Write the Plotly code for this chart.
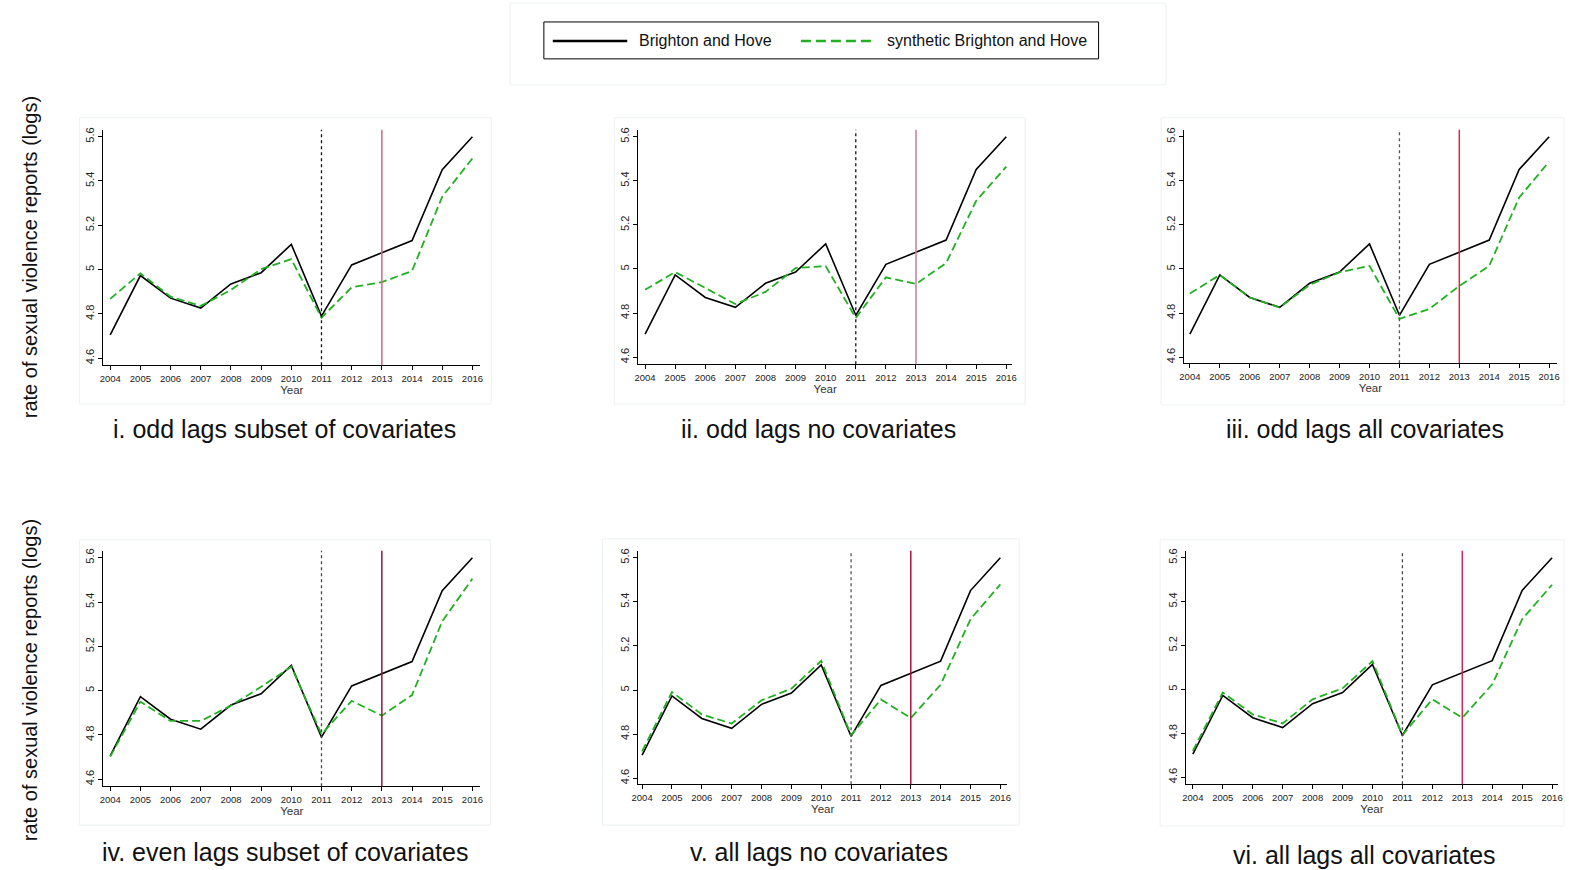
import plotly.graph_objects as go

W, H = 1569, 870
FONT = "Liberation Sans, Arial, Helvetica, sans-serif"

years = list(range(2004, 2017))
brighton = [4.705, 4.973, 4.871, 4.826, 4.935, 4.986, 5.114, 4.790, 5.021, 5.077, 5.131, 5.451, 5.600]

synth_i = [4.868, 4.983, 4.878, 4.836, 4.908, 5.002, 5.047, 4.783, 4.920, 4.943, 4.994, 5.329, 5.502]
synth_ii = [4.906, 4.986, 4.914, 4.841, 4.896, 5.004, 5.013, 4.778, 4.962, 4.932, 5.027, 5.309, 5.464]
synth_iii = [4.889, 4.973, 4.871, 4.825, 4.928, 4.985, 5.014, 4.774, 4.819, 4.923, 5.014, 5.324, 5.487]
synth_iv = [4.702, 4.950, 4.863, 4.863, 4.932, 5.017, 5.108, 4.803, 4.954, 4.887, 4.980, 5.313, 5.505]
synth_v = [4.722, 4.991, 4.889, 4.848, 4.953, 5.006, 5.132, 4.795, 4.957, 4.873, 5.024, 5.321, 5.479]
synth_vi = [4.720, 4.986, 4.886, 4.845, 4.955, 5.005, 5.129, 4.792, 4.955, 4.871, 5.023, 5.320, 5.477]

titles = ["i. odd lags subset of covariates", "ii. odd lags no covariates",
          "iii. odd lags all covariates", "iv. even lags subset of covariates",
          "v. all lags no covariates", "vi. all lags all covariates"]
synths = [synth_i, synth_ii, synth_iii, synth_iv, synth_v, synth_vi]

y_ticks = [4.6, 4.8, 5.0, 5.2, 5.4, 5.6]
y_ticklabels = ["4.6", "4.8", "5", "5.2", "5.4", "5.6"]
x_ticklabels = [str(y) for y in years]
treat_year = 2011
policy_year = 2013
legend_labels = ["Brighton and Hove", "synthetic Brighton and Hove"]
y_axis_label = "rate of sexual violence reports (logs)"

# layout geometry in pixels: (axis left, axis right, axis top, axis bottom, px 2004, px 2016, py 5.6, py 4.6)
geo = [
    (97, 477, 128, 364, 104, 469, 135, 357),
    (636, 1013, 128, 363, 643, 1007, 135, 356),
    (1186, 1562, 128, 362, 1192, 1554, 135, 356),
    (97, 477, 550, 786, 104, 469, 557, 779),
    (636, 1008, 550, 784, 640, 1001, 557, 778),
    (1188, 1563, 550, 784, 1195, 1557, 557, 777),
]
title_pos = [(280, 428), (818, 428), (1368, 428), (280, 852), (818, 852), (1368, 855)]
panel_boxes = [(73, 116, 488, 403), (612, 116, 1026, 403), (1163, 116, 1569, 404),
               (73, 539, 487, 825), (600, 538, 1020, 825), (1162, 539, 1569, 826)]
red_colors = ["#e0607f", "#d27a93", "#d8254f", "#a0103a", "#a8143e", "#d8254f"]
dot_colors = ["#111111", "#111111", "#555555", "#444444", "#555555", "#444444"]

GREEN = "#22b022"

fig = go.Figure()
shapes = []
annotations = []

for i in range(6):
    L, R, T, B, x0p, x1p, y56, y46 = geo[i]
    ppx = (x1p - x0p) / 12.0
    ppy = (y46 - y56) / 1.0
    xr = [2004 - (x0p - L) / ppx, 2016 + (R - x1p) / ppx]
    yr = [4.6 - (B - y46) / ppy, 5.6 + (y56 - T) / ppy]
    xa = "x" if i == 0 else f"x{i+1}"
    ya = "y" if i == 0 else f"y{i+1}"
    xk = "xaxis" if i == 0 else f"xaxis{i+1}"
    yk = "yaxis" if i == 0 else f"yaxis{i+1}"

    # panel background frame (faint)
    bx0, by0, bx1, by1 = panel_boxes[i]
    shapes.append(dict(type="rect", xref="paper", yref="paper",
                       x0=bx0 / W, x1=bx1 / W, y0=1 - by1 / H, y1=1 - by0 / H,
                       line=dict(color="#edf2f3", width=1), fillcolor="rgba(0,0,0,0)", layer="below"))

    fig.add_trace(go.Scatter(x=years, y=brighton, mode="lines", xaxis=xa, yaxis=ya,
                             line=dict(color="black", width=1.6), showlegend=False,
                             name=legend_labels[0]))
    fig.add_trace(go.Scatter(x=years, y=synths[i], mode="lines", xaxis=xa, yaxis=ya,
                             line=dict(color=GREEN, width=1.8, dash="8px,4px"), showlegend=False,
                             name=legend_labels[1]))

    fig.layout[xk] = dict(domain=[L / W, R / W], range=xr, anchor=ya,
                          tickmode="array", tickvals=years, ticktext=x_ticklabels,
                          tickfont=dict(size=9.5, color="#222", family=FONT),
                          showline=True, linecolor="black", linewidth=1,
                          ticks="outside", ticklen=4, tickcolor="black", tickwidth=1,
                          showgrid=False, zeroline=False, tickangle=0,
                          title=dict(text="Year", font=dict(size=11.5, color="#333", family=FONT), standoff=2))
    fig.layout[yk] = dict(domain=[1 - B / H, 1 - T / H], range=yr, anchor=xa,
                          tickmode="array", tickvals=y_ticks, ticktext=y_ticklabels,
                          tickfont=dict(size=11, color="#222", family=FONT), tickangle=-90,
                          showline=True, linecolor="black", linewidth=1,
                          ticks="outside", ticklen=4, tickcolor="black", tickwidth=1,
                          showgrid=False, zeroline=False)

    shapes.append(dict(type="line", xref=xa, yref=f"{ya} domain", x0=treat_year, x1=treat_year,
                       y0=0, y1=1, line=dict(color=dot_colors[i], width=1.3, dash="dot")))
    shapes.append(dict(type="line", xref=xa, yref=f"{ya} domain", x0=policy_year, x1=policy_year,
                       y0=0, y1=1, line=dict(color=red_colors[i], width=1.5)))

    tx, ty = title_pos[i]
    annotations.append(dict(text=titles[i], xref="paper", yref="paper", x=tx / W, y=1 - ty / H,
                            xanchor="center", yanchor="middle", showarrow=False,
                            font=dict(size=25, color="#111", family=FONT)))

# y-axis labels (left side)
for cy in (256, 680):
    annotations.append(dict(text=y_axis_label, xref="paper", yref="paper", x=24 / W, y=1 - cy / H,
                            xanchor="center", yanchor="middle", showarrow=False, textangle=-90,
                            font=dict(size=20, color="#111", family=FONT)))

# legend area
shapes.append(dict(type="rect", xref="paper", yref="paper", x0=507 / W, x1=1168 / W,
                   y0=1 - 83 / H, y1=1 - 1 / H, line=dict(color="#edf2f3", width=1), layer="below"))
shapes.append(dict(type="rect", xref="paper", yref="paper", x0=541 / W, x1=1100 / W,
                   y0=1 - 57 / H, y1=1 - 20 / H, line=dict(color="black", width=1)))
shapes.append(dict(type="line", xref="paper", yref="paper", x0=550 / W, x1=625 / W,
                   y0=1 - 39 / H, y1=1 - 39 / H, line=dict(color="black", width=2.5)))
shapes.append(dict(type="line", xref="paper", yref="paper", x0=800 / W, x1=875 / W,
                   y0=1 - 39 / H, y1=1 - 39 / H, line=dict(color=GREEN, width=2.5, dash="10px,5px")))
annotations.append(dict(text=legend_labels[0], xref="paper", yref="paper", x=635 / W, y=1 - 39 / H,
                        xanchor="left", yanchor="middle", showarrow=False,
                        font=dict(size=16, color="#111", family=FONT)))
annotations.append(dict(text=legend_labels[1], xref="paper", yref="paper", x=885 / W, y=1 - 39 / H,
                        xanchor="left", yanchor="middle", showarrow=False,
                        font=dict(size=16, color="#111", family=FONT)))

fig.update_layout(width=W, height=H, margin=dict(l=0, r=0, t=0, b=0),
                  paper_bgcolor="white", plot_bgcolor="white",
                  shapes=shapes, annotations=annotations, showlegend=False,
                  font=dict(family=FONT))

fig.write_html("out.html", config={"displayModeBar": False},
               post_script="document.body.style.margin='0';document.body.style.overflow='hidden';")
